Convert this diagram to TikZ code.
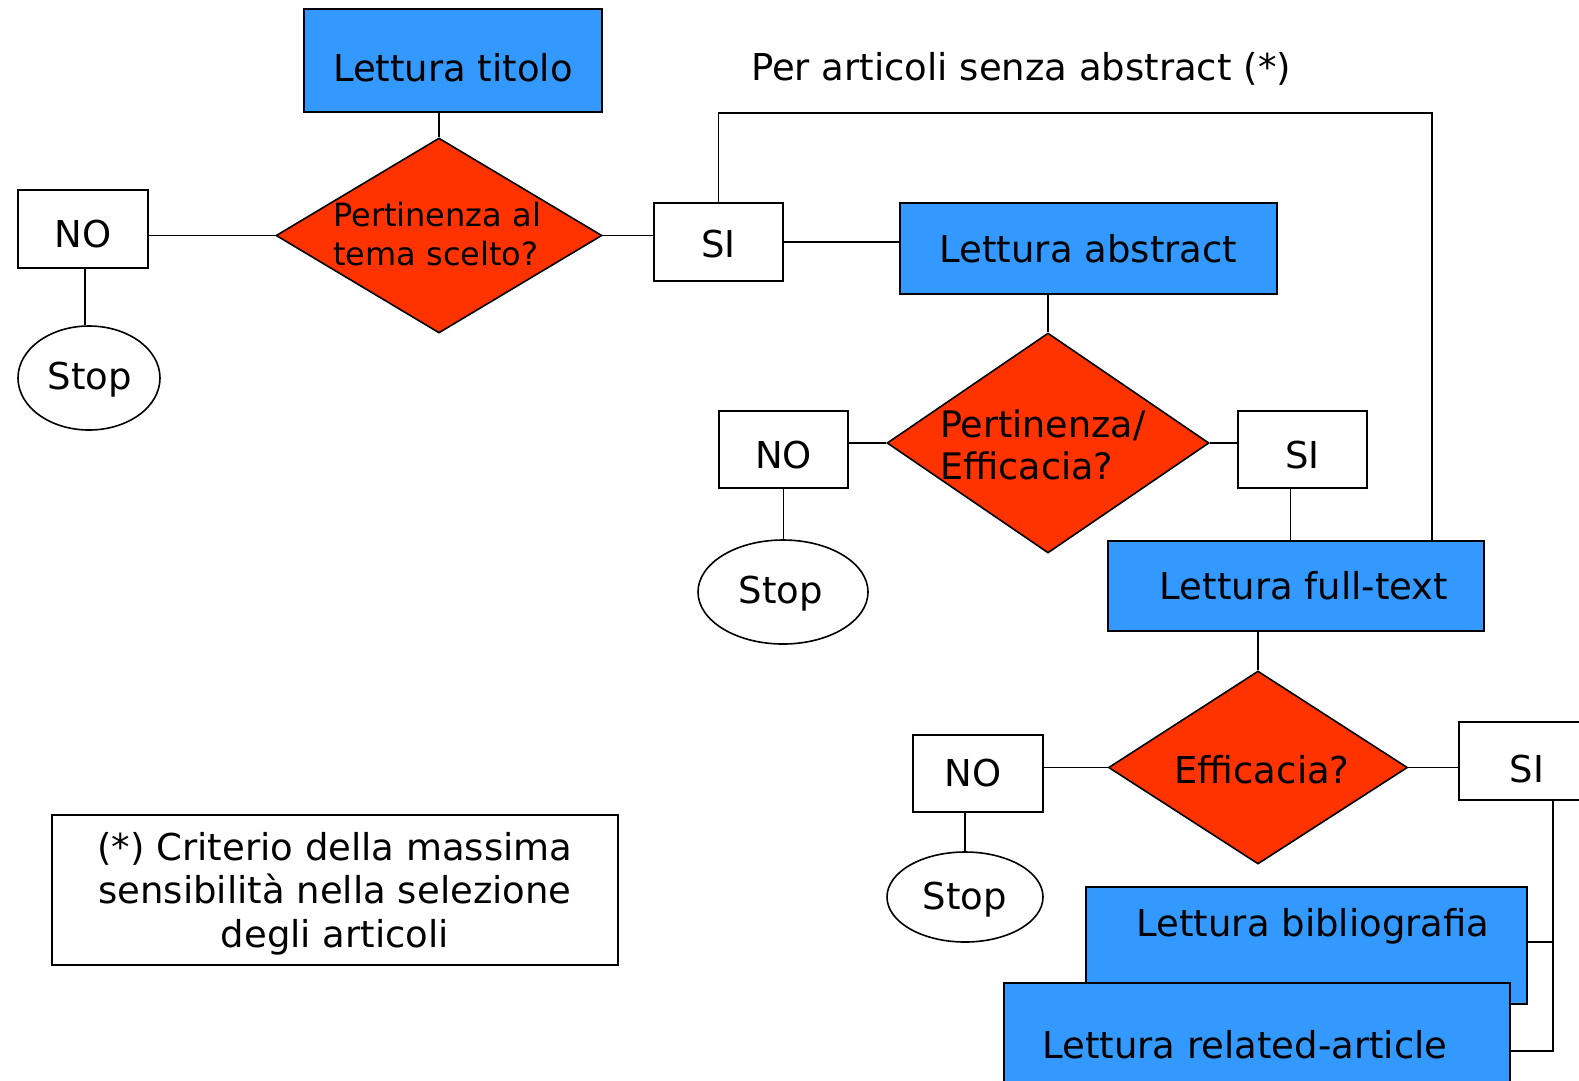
\documentclass[tikz,border=0pt]{standalone}
\usepackage{fontspec}
\setmainfont{DejaVu Sans}
\usetikzlibrary{shapes.geometric}
\definecolor{boxblue}{HTML}{3399FF}
\definecolor{boxred}{HTML}{FF3300}
\newcommand\movetext[3]{\raisebox{-#2}[\height][\depth]{\kern#1\relax #3\kern-#1\relax}}
\begin{document}
\begin{tikzpicture}[x=1pt,y=-1pt,
  every node/.style={font=\fontsize{37}{44}\selectfont, inner sep=0pt},
  conn/.style={line width=1.6pt},
  wbox/.style={draw, line width=1.6pt, fill=white, rectangle},
  bbox/.style={draw, line width=1.6pt, fill=boxblue, rectangle},
  dia/.style={draw, line width=1.6pt, fill=boxred, diamond},
  oval/.style={draw, line width=1.6pt, fill=white, ellipse},
  plain/.style={}]
\useasboundingbox (0,0) rectangle (1579,1080);

% row 1
\node[bbox, minimum width=298pt, minimum height=103pt] (titolo) at (453,60.5) {\movetext{0pt}{7pt}{Lettura titolo}};
\node[dia, minimum width=326pt, minimum height=195pt] (d1) at (439,235.5) {};
\node[plain, anchor=west, align=left, font=\fontsize{32}{39}\selectfont] (t1) at (333,234) {Pertinenza al\\tema scelto?};
\node[wbox, minimum width=130pt, minimum height=78pt] (no1) at (83,229) {\movetext{0pt}{5pt}{NO}};
\node[oval, minimum width=142pt, minimum height=104pt] (stop1) at (89,378) {\movetext{1pt}{2pt}{Stop}};
\node[wbox, minimum width=129pt, minimum height=78pt] (si1) at (718.5,242) {\movetext{0pt}{2pt}{SI}};
\node[bbox, minimum width=377pt, minimum height=91pt] (abs) at (1088.5,248.5) {Lettura abstract};
\node[plain] (note) at (1021,69) {Per articoli senza abstract (*)};

% row 2
\node[dia, minimum width=322pt, minimum height=220pt] (d2) at (1048,443) {};
\node[plain, anchor=west, align=left, font=\fontsize{36.5}{42}\selectfont] (t2) at (940,445) {Pertinenza/\\Efficacia?};
\node[wbox, minimum width=129pt, minimum height=77pt] (no2) at (783.5,449.5) {\movetext{0pt}{6pt}{NO}};
\node[oval, minimum width=170pt, minimum height=104pt] (stop2) at (783,592) {\movetext{-2pt}{2pt}{Stop}};
\node[wbox, minimum width=129pt, minimum height=77pt] (si2) at (1302.5,449.5) {\movetext{0pt}{6pt}{SI}};
\node[bbox, minimum width=376pt, minimum height=90pt] (full) at (1296,586) {\movetext{8pt}{0pt}{Lettura full-text}};

% row 3
\node[dia, minimum width=299pt, minimum height=193pt] (d3) at (1258,767.5) {};
\node[plain] (t3) at (1262,770) {Efficacia?};
\node[wbox, minimum width=130pt, minimum height=77pt] (no3) at (978,773.5) {\movetext{-5pt}{0pt}{NO}};
\node[oval, minimum width=156pt, minimum height=90pt] (stop3) at (965,897) {\movetext{0pt}{3pt}{Stop}};
\node[wbox, minimum width=130pt, minimum height=78pt] (si3) at (1524,761) {\movetext{3pt}{8pt}{SI}};
\node[bbox, minimum width=441pt, minimum height=117pt] (bib) at (1306.5,945.5) {};
\node[plain] (tbib) at (1313,926) {Lettura bibliografia};
\node[bbox, minimum width=506pt, minimum height=117pt] (rel) at (1257,1041.5) {};
\node[plain] (trel) at (1245,1045) {Lettura related-article};

% note box
\node[wbox, minimum width=566pt, minimum height=150pt, align=center, font=\fontsize{37}{43.5}\selectfont] (crit) at (335,890) {\movetext{0pt}{5pt}{\begin{tabular}{@{}c@{}}(*) Criterio della massima\\sensibilità nella selezione\\degli articoli\end{tabular}}};

% connectors
\draw[conn] (titolo.south -| d1.north) -- (d1.north);
\draw[conn] (d1.west -| no1.east) -- (d1.west);
\draw[conn] ([xshift=2pt]no1.south) -- ([xshift=2pt]no1.south |- stop1.north);
\draw[conn] (d1.east) -- (d1.east -| si1.west);
\draw[conn] (si1.east) -- (si1.east -| abs.west);
\coordinate (loopR) at (1432,113);
\draw[conn] (si1.north) |- (loopR) -- (loopR |- full.north);

\draw[conn] (abs.south -| d2.north) -- (d2.north);
\draw[conn] (d2.west -| no2.east) -- (d2.west);
\draw[conn] (no2.south) -- (no2.south |- stop2.north);
\draw[conn] (d2.east) -- (d2.east -| si2.west);
\draw[conn] ([xshift=-12pt]si2.south) -- ([xshift=-12pt]si2.south |- full.north);

\draw[conn] (full.south -| d3.north) -- (d3.north);
\draw[conn] (d3.west -| no3.east) -- (d3.west);
\draw[conn] (no3.south -| stop3.north) -- (stop3.north);
\draw[conn] (d3.east) -- (d3.east -| si3.west);
\coordinate (vb) at (1553,1051);
\coordinate (vm) at (1553,942);
\draw[conn] (si3.south -| vb) -- (vb) -- (vb -| rel.east);
\draw[conn] (vm) -- (vm -| bib.east);
\end{tikzpicture}
\end{document}
